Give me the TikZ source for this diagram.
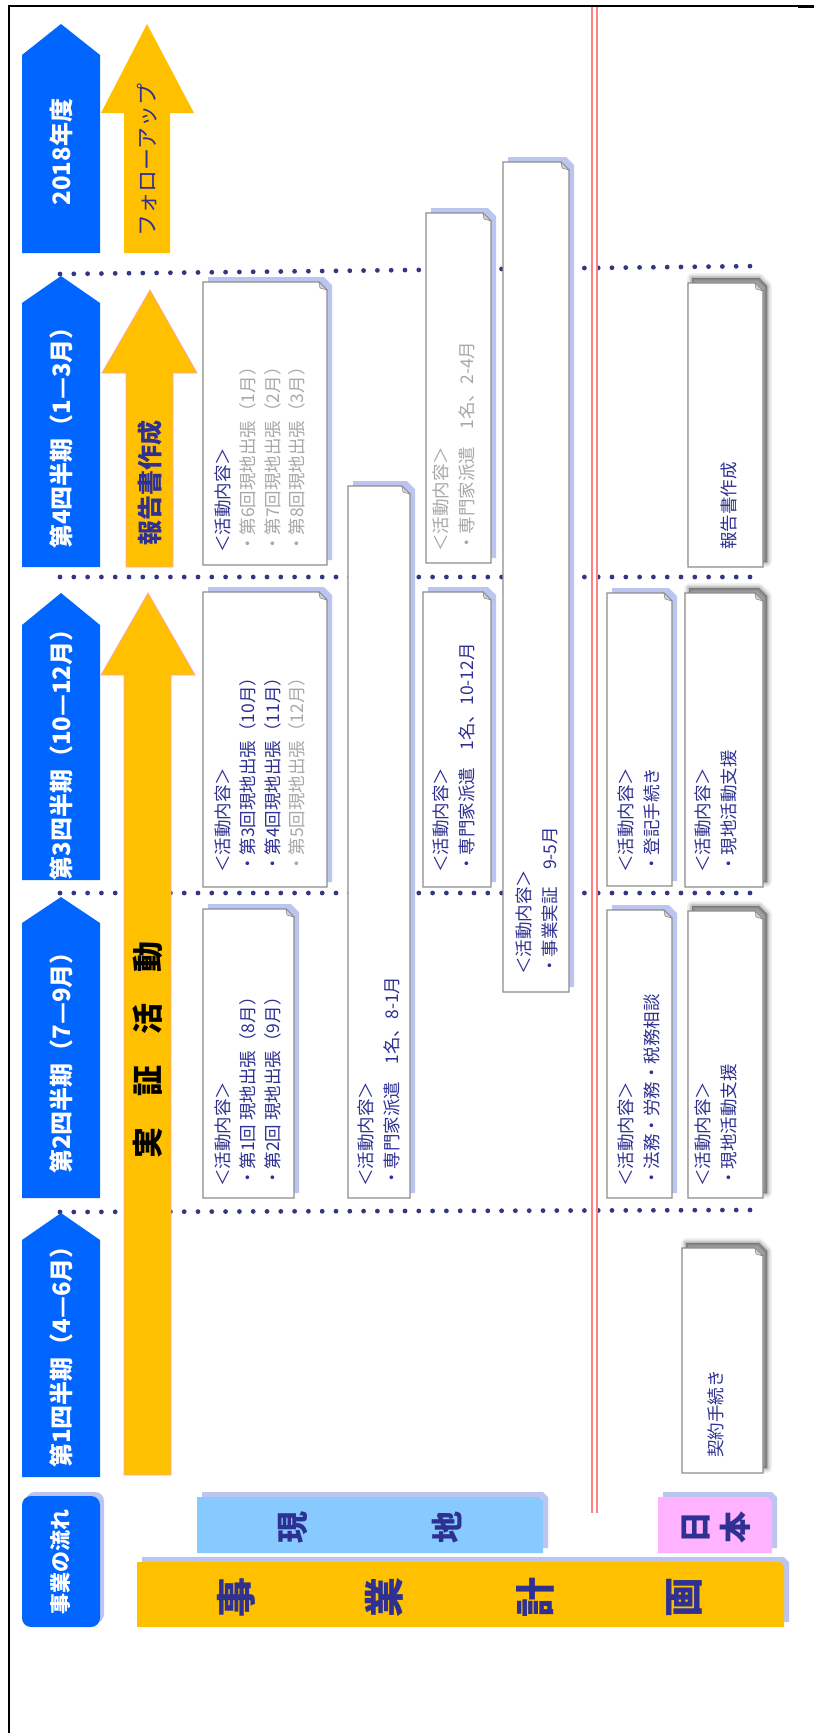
\documentclass[tikz,border=0pt]{standalone}
\usepackage{fontspec}
\setmainfont{Noto Sans CJK JP}
\definecolor{navy}{RGB}{46,49,146}
\definecolor{hblue}{RGB}{0,102,255}
\definecolor{ayel}{RGB}{255,192,0}
\definecolor{apink}{RGB}{255,165,165}
\definecolor{lav}{RGB}{188,197,240}
\definecolor{ltblue}{RGB}{134,202,255}
\definecolor{pinkbox}{RGB}{255,178,255}
\definecolor{redline}{RGB}{255,130,130}
\definecolor{graytxt}{RGB}{168,168,168}
\definecolor{dotc}{RGB}{50,55,130}
\definecolor{boxline}{RGB}{140,140,140}

% #1 = shadow kind (1 lavender, 2 gray blur), #2 x1, #3 y1 (top), #4 x2, #5 y2 (bottom)
\newcommand\docbox[5]{%
\ifnum#1=1
 \fill[lav] ({#2+5},{#3-5}) -- ({#4+5-8},{#3-5}) -- ({#4+5},{#3-5+8}) -- ({#4+5},{#5-5}) -- ({#2+5},{#5-5}) -- cycle;
\else
 \foreach \w/\o in {10/0.05,7/0.07,4/0.1,1/0.15}{%
 \filldraw[black, opacity=\o, line width=\w pt, line join=round] ({#2+4},{#3-5}) -- ({#4+4-8},{#3-5}) -- ({#4+4},{#3-5+8}) -- ({#4+4},{#5-5}) -- ({#2+4},{#5-5}) -- cycle;}
\fi
\filldraw[fill=white, draw=boxline, line width=1.2pt] (#2,#3) -- ({#4-8},#3) -- (#4,{#3+8}) -- (#4,#5) -- (#2,#5) -- cycle;
\filldraw[fill=gray!35, draw=boxline, line width=0.6pt] ({#4-8},#3) -- (#4,{#3+8}) -- ({#4-7},{#3+6}) -- cycle;
}

\begin{document}
\begin{tikzpicture}[x=1pt,y=-1pt,
  vt/.style={rotate=90, anchor=west, inner sep=0pt, text=navy, font=\fontsize{17.5}{17.5}\selectfont},
  gt/.style={vt, text=graytxt},
  hdr/.style={rotate=90, inner sep=0pt, text=white, font=\bfseries\fontsize{24}{24}\selectfont},
  barrow/.style={fill=hblue},
  yarrow/.style={fill=ayel, draw=apink, line width=0.8pt},
  dots/.style={dotc, line width=4.8pt, line cap=round, dash pattern=on 0pt off 13.8pt},
  leg/.style={rotate=90, inner sep=0pt, text=navy, font=\bfseries\fontsize{32}{32}\selectfont},
  legbig/.style={rotate=90, inner sep=0pt, text=navy, font=\bfseries\fontsize{40}{40}\selectfont}
]
\useasboundingbox (0,0) rectangle (814,1733);
\fill[white] (0,0) rectangle (814,1733);
% frame
\draw[black, line width=1.5pt] (9,1733) -- (9,6) -- (814,6);
\draw[black, line width=2.5pt] (798,7) -- (814,7);

% dotted separators
\draw[dots] (60,274) -- (763,266);
\draw[dots] (60,577) -- (750,577);
\draw[dots] (60,893) -- (750,893);
\draw[dots] (60,1212) -- (750,1210);

% red double line
\draw[redline, line width=1.2pt] (592,7) -- (592,1513);
\draw[redline, line width=1.2pt] (597,7) -- (597,1513);

% blue period arrows
\fill[barrow] (22,55) -- (61,24) -- (100,55) -- (100,253) -- (22,253) -- cycle;
\fill[barrow] (22,303) -- (61,276) -- (100,303) -- (100,567) -- (22,567) -- cycle;
\fill[barrow] (22,625) -- (61,593) -- (100,625) -- (100,880) -- (22,880) -- cycle;
\fill[barrow] (22,923) -- (61,897) -- (100,923) -- (100,1198) -- (22,1198) -- cycle;
\fill[barrow] (22,1240) -- (61,1213) -- (100,1240) -- (100,1477) -- (22,1477) -- cycle;

\node[hdr] (h0) at (61,152) {2018年度};
\node[hdr] (h4) at (61,432) {第4四半期（1—3月）};
\node[hdr] (h3) at (61,749) {第3四半期（10—12月）};
\node[hdr] (h2) at (61,1057) {第2四半期（7—9月）};
\node[hdr] (h1) at (61,1351) {第1四半期（4—6月）};

% yellow arrows
\fill[ayel] (124,253) -- (124,113) -- (101,113) -- (147,24) -- (194,113) -- (170,113) -- (170,253) -- cycle;
\filldraw[yarrow] (126,567) -- (126,373) -- (102,373) -- (150,290) -- (197,373) -- (173,373) -- (173,567) -- cycle;
\filldraw[yarrow] (124,1475) -- (124,675) -- (101,675) -- (148,593) -- (195,675) -- (171,675) -- (171,1475) -- cycle;

\node[rotate=90, inner sep=0pt, text=navy, font=\fontsize{22}{22}\selectfont] (fu) at (147,160) {フォローアップ};
\node[rotate=90, inner sep=0pt, text=navy, font=\bfseries\fontsize{25}{25}\selectfont] (rep) at (150,483) {報告書作成};
\node[rotate=90, inner sep=0pt, text=black, font=\bfseries\fontsize{31}{31}\selectfont] (jis) at (148,1050) {実　証　活　動};

% document boxes
\docbox{1}{203}{282}{327}{565}
\docbox{1}{203}{592}{327}{887}
\docbox{1}{203}{909}{294}{1198}
\docbox{1}{348}{486}{410}{1198}
\docbox{1}{426}{213}{491}{563}
\docbox{1}{423}{592}{491}{887}
\docbox{1}{503}{162}{569}{992}
\docbox{1}{607}{593}{672}{886}
\docbox{1}{607}{910}{672}{1198}
\docbox{2}{688}{283}{763}{567}
\docbox{2}{685}{593}{763}{887}
\docbox{2}{688}{911}{763}{1198}
\docbox{2}{682}{1248}{763}{1473}

% box A
\node[vt] (a0) at (223,553) {＜活動内容＞};
\node[gt] (a1) at (248,553) {・第6回現地出張（1月）};
\node[gt] (a2) at (273,553) {・第7回現地出張（2月）};
\node[gt] (a3) at (297,553) {・第8回現地出張（3月）};
% box B
\node[vt] (b0) at (223,873) {＜活動内容＞};
\node[vt] (b1) at (248,873) {・第3回現地出張（10月）};
\node[vt] (b2) at (273,873) {・第4回現地出張（11月）};
\node[gt] (b3) at (297,873) {・第5回現地出張（12月）};
% box C
\node[vt] (c0) at (223,1187) {＜活動内容＞};
\node[vt] (c1) at (248,1187) {・第1回 現地出張（8月）};
\node[vt] (c2) at (273,1187) {・第2回 現地出張（9月）};
% box D
\node[gt] (d0) at (441,552) {＜活動内容＞};
\node[gt] (d1) at (467,552) {・専門家派遣　1名、2-4月};
% box E
\node[vt] (e0) at (366,1187) {＜活動内容＞};
\node[vt] (e1) at (392,1187) {・専門家派遣　1名、8-1月};
% box F
\node[vt] (f0) at (441,873) {＜活動内容＞};
\node[vt] (f1) at (467,873) {・専門家派遣　1名、10-12月};
% box G
\node[vt] (g0) at (524,975) {＜活動内容＞};
\node[vt] (g1) at (550,975) {・事業実証　9-5月};
% box H
\node[vt] (hh0) at (626,873) {＜活動内容＞};
\node[vt] (hh1) at (652,873) {・登記手続き};
% box I
\node[vt] (i0) at (626,1187) {＜活動内容＞};
\node[vt] (i1) at (652,1187) {・法務・労務・税務相談};
% box J
\node[vt] (j0) at (729,550) {報告書作成};
% box K
\node[vt] (k0) at (703,873) {＜活動内容＞};
\node[vt] (k1) at (729,873) {・現地活動支援};
% box L
\node[vt] (l0) at (703,1187) {＜活動内容＞};
\node[vt] (l1) at (729,1187) {・現地活動支援};
% box M
\node[vt] (m0) at (716,1458) {契約手続き};

% legend
\fill[lav, rounded corners=9pt] (26,1492) rectangle (104,1623);
\fill[hblue, rounded corners=9pt] (22,1496) rectangle (100,1627);
\node[rotate=90, inner sep=0pt, text=white, font=\bfseries\fontsize{21}{21}\selectfont] (flow) at (61,1562) {事業の流れ};

\fill[lav] (202,1492) -- (543,1492) -- (548,1497) -- (548,1548) -- (202,1548) -- cycle;
\fill[ltblue] (197,1497) -- (539,1497) -- (543,1501) -- (543,1553) -- (197,1553) -- cycle;
\node[leg] (g1c) at (293,1527) {現};
\node[leg] (g2c) at (447,1527) {地};

\fill[lav] (663,1492) -- (772,1492) -- (777,1497) -- (777,1548) -- (663,1548) -- cycle;
\fill[pinkbox] (658,1497) -- (768,1497) -- (772,1501) -- (772,1553) -- (658,1553) -- cycle;
\node[leg] (n1c) at (696,1527) {日};
\node[leg] (n2c) at (735,1527) {本};

\fill[lav] (142,1557) -- (784,1557) -- (789,1562) -- (789,1622) -- (142,1622) -- cycle;
\fill[ayel] (137,1562) -- (780,1562) -- (784,1566) -- (784,1627) -- (137,1627) -- cycle;
\node[legbig] (p1) at (236,1597) {事};
\node[legbig] (p2) at (384,1597) {業};
\node[legbig] (p3) at (535,1597) {計};
\node[legbig] (p4) at (684,1597) {画};
\end{tikzpicture}
\end{document}
